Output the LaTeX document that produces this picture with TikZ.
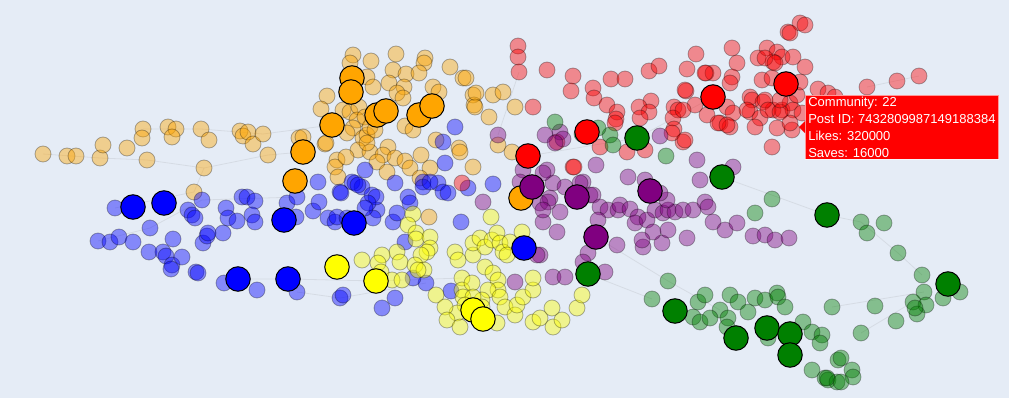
\documentclass[tikz,border=0pt]{standalone}
\usepackage{fontspec}
\setmainfont{Liberation Sans}
\usetikzlibrary{calc}
\definecolor{plotbg}{HTML}{E5ECF6}
\definecolor{corange}{HTML}{FFA500}
\definecolor{cblue}{HTML}{0000FF}
\definecolor{cred}{HTML}{FF0000}
\definecolor{cpurple}{HTML}{800080}
\definecolor{cgreen}{HTML}{008000}
\definecolor{cyellow}{HTML}{FFFF00}
\tikzset{
  dot/.style={circle, inner sep=0pt, minimum size=16pt, draw=black, draw opacity=0.3, line width=0.8pt, fill opacity=0.42},
  hub/.style={circle, inner sep=0pt, minimum size=24.5pt, draw=black, line width=1pt},
  link/.style={draw=gray, draw opacity=0.15, line width=0.8pt},
  tipbox/.style={fill=cred, draw=white, draw opacity=0.6, line width=0.6pt, text=white, anchor=north west,
    align=left, inner xsep=3pt, inner ysep=1.5pt, font=\fontsize{13}{17}\selectfont}
}

\begin{document}
\begin{tikzpicture}[x=1pt, y=-1pt]
			%%%%% BACKGROUND %%%%%
			\useasboundingbox (0,0) rectangle (1009,398);
			\fill[plotbg] (0,0) rectangle (1009,398);
			
			%%%%% EDGES %%%%%
			\draw[link] (43,154) -- (100,158) -- (147,160) -- (204,168) -- (268,155) -- (303,152);
			\draw[link] (143,129) -- (201,129) -- (263,134) -- (332,125);
			\draw[link] (204,168) -- (194,192) -- (115,208);
			\draw[link] (98,241) -- (150,228) -- (202,200) -- (297,197);
			\draw[link] (238,279) -- (288,279) -- (376,281) -- (462,278);
			\draw[link] (297,292) -- (340,298) -- (426,283);
			\draw[link] (867,87) -- (919,76);
			\draw[link] (722,177) -- (827,215) -- (861,222) -- (898,253) -- (922,275);
			\draw[link] (832,307) -- (924,292);
			\draw[link] (861,333) -- (913,302);
			\draw[link] (588,274) -- (652,299);
			\draw[link] (519,72) -- (498,135);
			\draw[link] (528,156) -- (637,138) -- (713,97);
			\draw[link] (596,237) -- (668,281) -- (720,310);
			
			%%%%% COMMUNITIES %%%%%
			\foreach \x/\y [count=\i] in {43/154, 67/156, 76/156, 100/158, 103/145, 127/148, 143/129, 142/138, 147/160, 168/127, 176/129, 172/137, 201/129, 209/140, 240/131, 243/136, 248/132, 253/144, 263/134, 268/155, 204/168, 194/192, 299/138, 325/144, 327/96, 321/109, 337/160, 335/167, 338/177, 353/55, 371/61, 396/54, 425/58, 424/63, 450/67, 463/78, 466/78, 473/95, 474/105, 350/63, 367/77, 373/87, 393/70, 406/74, 419/73, 389/83, 404/87, 433/87, 439/92, 397/93, 403/98, 343/110, 350/112, 359/107, 357/120, 365/117, 353/128, 363/138, 367/135, 347/133, 370/127, 375/130, 405/126, 413/130, 326/143, 358/150, 370/152, 367/143, 388/147, 383/155, 377/162, 346/157, 395/158, 405/161, 410/168, 387/172, 421/155, 430/168, 420/178, 436/140, 459/148, 473/167, 303/137, 476/93, 493/95, 503/92, 475/107, 489/117, 515/107, 498/145, 512/152, 429/217, 460/152}
				\node[dot, fill=corange] (o\i) at (\x,\y) {};
			
			\foreach \x/\y [count=\i] in {115/208, 150/228, 98/241, 110/242, 119/237, 133/242, 149/252, 163/252, 166/256, 172/265, 171/269, 182/257, 173/239, 203/243, 207/236, 223/233, 196/272, 198/273, 224/283, 257/290, 297/292, 340/298, 188/210, 192/215, 195/218, 202/200, 226/208, 228/218, 237/221, 242/197, 247/197, 255/201, 252/215, 255/222, 287/203, 296/217, 313/211, 319/202, 328/218, 335/222, 208/233, 297/197, 318/182, 340/192, 352/182, 362/187, 372/195, 377/210, 337/217, 347/218, 343/295, 455/127, 443/142, 445/163, 341/193, 365/170, 355/183, 358/185, 376/197, 395/183, 408/197, 423/182, 423/187, 438/183, 443/192, 448/193, 468/188, 493/184, 368/203, 430/182, 461/222, 426/283, 451/291, 373/218, 393/222, 397/213, 410/203, 405/242, 413/278, 395/298, 382/308, 365/208}
				\node[dot, fill=cblue] (b\i) at (\x,\y) {};
			
			\foreach \x/\y [count=\i] in {413/214, 408/225, 416/233, 416/239, 430/237, 430/248, 427/252, 421/255, 397/252, 400/262, 382/255, 378/263, 381/272, 392/280, 402/280, 415/265, 424/270, 418/270, 362/260, 436/295, 462/278, 462/290, 472/283, 463/297, 455/252, 458/260, 473/255, 473/243, 480/238, 485/247, 492/240, 497/233, 500/243, 503/252, 491/217, 510/242, 507/255, 485/267, 493/273, 498/280, 498/290, 488/290, 482/300, 500/297, 505/307, 482/307, 473/297, 465/305, 457/313, 445/307, 447/320, 460/327, 497/323, 515/315, 517/305, 523/297, 533/290, 533/278, 522/232, 533/322, 540/318, 553/327, 562/320, 552/308, 577/308, 582/295}
				\node[dot, fill=cyellow] (y\i) at (\x,\y) {};
			
			\foreach \x/\y [count=\i] in {518/46, 518/57, 519/72, 547/70, 573/76, 571/91, 593/88, 594/98, 611/79, 625/79, 607/105, 617/112, 616/119, 615/123, 649/71, 659/66, 687/69, 696/54, 706/73, 713/73, 732/48, 737/63, 732/77, 730/83, 686/91, 695/105, 674/107, 678/110, 673/118, 674/129, 683/142, 651/101, 639/107, 649/112, 640/118, 533/107, 573/167, 600/147, 627/152, 645/150, 557/142, 672/133, 720/123, 727/107, 733/113, 730/127, 758/58, 767/48, 777/52, 782/57, 773/62, 793/57, 805/67, 762/80, 772/78, 750/97, 752/100, 763/102, 750/112, 760/118, 773/110, 782/110, 790/103, 793/110, 792/130, 777/128, 772/147, 755/127, 788/32, 800/23, 805/25, 790/33, 765/58, 775/63, 705/73, 818/89, 685/90, 707/115, 718/123, 727/125, 747/110, 765/100, 768/110, 780/112, 790/123, 802/113, 797/95, 780/100, 683/110, 685/140, 800/82, 828/93, 835/97, 867/87, 897/81, 919/76, 462/183, 574/167}
				\node[dot, fill=cred] (r\i) at (\x,\y) {};
			
			\foreach \x/\y [count=\i] in {498/135, 545/135, 560/132, 563/139, 555/143, 660/136, 697/160, 733/167, 596/165, 628/177, 645/180, 553/183, 565/187, 583/182, 590/195, 550/198, 540/203, 700/180, 547/170, 523/170, 548/202, 560/212, 543/222, 557/232, 540/255, 593/195, 600/207, 608/210, 618/210, 620/205, 630/209, 638/217, 635/223, 647/220, 655/210, 663/213, 668/210, 675/212, 683/210, 693/210, 705/202, 708/207, 667/200, 660/193, 713/222, 725/230, 737/223, 753/236, 765/235, 775/240, 789/238, 687/238, 662/243, 653/232, 668/230, 643/247, 642/240, 598/220, 617/245, 588/253, 583/262, 605/272, 553/277, 565/277, 483/202, 543/210, 537/255, 515/282, 520/182, 543/173, 580/183}
				\node[dot, fill=cpurple] (p\i) at (\x,\y) {};
			
			\foreach \x/\y [count=\i] in {555/122, 582/134, 610/135, 613/145, 598/128, 666/156, 772/199, 755/213, 668/281, 652/299, 698/302, 705/295, 730/295, 738/302, 748/312, 755/298, 765/300, 777/293, 778/297, 785/307, 720/310, 693/317, 700/322, 710/318, 728/318, 727/327, 768/338, 803/322, 812/332, 822/335, 820/343, 832/307, 838/360, 812/370, 825/378, 828/380, 837/382, 861/222, 867/233, 884/223, 898/253, 922/275, 924/292, 913/302, 926/305, 917/314, 915/308, 943/298, 960/292, 875/306, 896/321, 861/333, 841/358, 852/370, 853/377, 827/378, 841/382}
				\node[dot, fill=cgreen] (g\i) at (\x,\y) {};
			
			%%%%% HUBS %%%%%
			\foreach \x/\y [count=\i] in {352/78, 351/92, 332/125, 303/152, 295/181, 377/115, 386/111, 419/115, 432/106, 521/198}
				\node[hub, fill=corange] (O\i) at (\x,\y) {};
			\foreach \x/\y [count=\i] in {133/207, 164/203, 284/220, 354/223, 238/279, 288/279, 524/248}
				\node[hub, fill=cblue] (B\i) at (\x,\y) {};
			\foreach \x/\y [count=\i] in {337/267, 376/281, 473/310, 483/319}
				\node[hub, fill=cyellow] (Y\i) at (\x,\y) {};
			\foreach \x/\y [count=\i] in {713/97, 786/84, 587/132, 528/156}
				\node[hub, fill=cred] (R\i) at (\x,\y) {};
			\foreach \x/\y [count=\i] in {532/187, 577/197, 650/191, 596/237}
				\node[hub, fill=cpurple] (P\i) at (\x,\y) {};
			\foreach \x/\y [count=\i] in {637/138, 722/177, 827/215, 588/274, 675/311, 736/338, 767/328, 790/334, 790/355, 948/284}
				\node[hub, fill=cgreen] (G\i) at (\x,\y) {};
			
			%%%%% HOVER LABEL %%%%%
			\node[tipbox] (tip) at (805,95) {Community: 22\\Post ID: 7432809987149188384\\Likes: 320000\\Saves: 16000};
			\fill[cred] ([yshift=6pt]tip.west) -- ([xshift=-6pt]tip.west) -- ([yshift=-6pt]tip.west) -- cycle;
			
			%%%%% END %%%%%
		\end{tikzpicture}
\end{document}
